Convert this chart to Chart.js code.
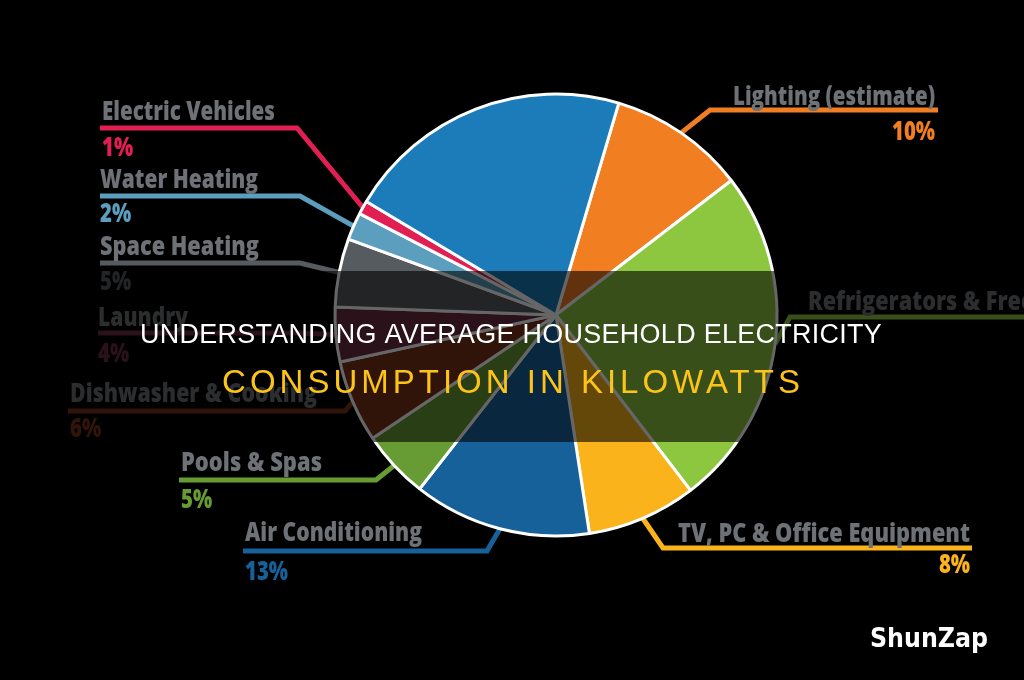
<!DOCTYPE html>
<html>
<head>
<meta charset="utf-8">
<script src="https://cdn.jsdelivr.net/npm/chart.js@4/dist/chart.umd.min.js"></script>
<style>
  html, body { margin: 0; padding: 0; background: #000; }
  #wrap { width: 1024px; height: 680px; position: relative; }
</style>
</head>
<body>
<div id="wrap"><canvas id="pie" width="1024" height="680"></canvas></div>
<script>
// shares of household electricity use, clockwise from the top
const categories = ['Lighting (estimate)', 'Refrigerators & Freezers', 'TV, PC & Office Equipment', 'Air Conditioning',
    'Pools & Spas', 'Dishwasher & Cooking', 'Laundry', 'Space Heating', 'Water Heating', 'Electric Vehicles', 'Other'];
const shares = [10, 25, 8, 13, 5, 6, 4, 5, 2, 1, 21];
const sliceColors = ['#f27e22', '#8dc63f', '#fbb31b', '#17619b', '#679b33', '#7b3417', '#6c2b41', '#565b60', '#5b9ebd', '#e21f52', '#1b7cb9'];

const titleLines = ['UNDERSTANDING AVERAGE HOUSEHOLD ELECTRICITY', 'CONSUMPTION IN KILOWATTS'];

// where each callout sits (index into categories), purely layout
const callouts = [
    { i: 0, align: 'right', x: 935, textY: 105, pctY: 140, lineY: 110, lineFrom: 938, elbow: 710, w: 202 },
    { i: 1, align: 'left', x: 808, textY: 310, pctY: null, lineY: 317, lineFrom: 1030, elbow: 790, w: 272 },
    { i: 2, align: 'right', x: 970, textY: 542, pctY: 573, lineY: 548, lineFrom: 972, elbow: 663, w: 292 },
    { i: 3, align: 'left', x: 245, textY: 541, pctY: 580, lineY: 551, lineFrom: 243, elbow: 487, w: 177 },
    { i: 4, align: 'left', x: 181, textY: 471, pctY: 508, lineY: 480, lineFrom: 179, elbow: 376, w: 141 },
    { i: 5, align: 'left', x: 70, textY: 402, pctY: 437, lineY: 411, lineFrom: 68, elbow: 345, w: 247 },
    { i: 6, align: 'left', x: 98, textY: 326, pctY: 362, lineY: 333, lineFrom: 98, elbow: 300, w: 90 },
    { i: 7, align: 'left', x: 100, textY: 255, pctY: 290, lineY: 263, lineFrom: 100, elbow: 300, w: 159 },
    { i: 8, align: 'left', x: 100, textY: 188, pctY: 222, lineY: 196, lineFrom: 100, elbow: 300, w: 158 },
    { i: 9, align: 'left', x: 102, textY: 120, pctY: 156, lineY: 128, lineFrom: 100, elbow: 297, w: 173 }
];

const calloutPlugin = {
    id: 'callouts',
    beforeDatasetsDraw(chart) {
        const ctx = chart.ctx;
        const arcs = chart.getDatasetMeta(0).data;
        ctx.save();
        callouts.forEach(c => {
            const arc = arcs[c.i];
            const mid = (arc.startAngle + arc.endAngle) / 2;
            const px = arc.x + Math.cos(mid) * arc.outerRadius;
            const py = arc.y + Math.sin(mid) * arc.outerRadius;

            ctx.strokeStyle = sliceColors[c.i];
            ctx.lineWidth = 5;
            ctx.lineJoin = 'miter';
            ctx.beginPath();
            ctx.moveTo(c.lineFrom, c.lineY);
            ctx.lineTo(c.elbow, c.lineY);
            ctx.lineTo(px, py);
            ctx.stroke();

            ctx.textAlign = c.align;
            ctx.textBaseline = 'alphabetic';
            ctx.font = '800 26px "Open Sans"';
            ctx.fillStyle = '#6e7175';
            ctx.fillText(categories[c.i], c.x, c.textY, c.w);

            if (c.pctY) {
                const pct = shares[c.i] + '%';
                ctx.fillStyle = sliceColors[c.i];
                const natural = ctx.measureText(pct).width;
                ctx.fillText(pct, c.x, c.pctY, natural * 0.78);
            }
        });
        ctx.restore();
    },
    afterDraw(chart) {
        const ctx = chart.ctx;
        ctx.save();
        // dark banner with the title
        ctx.fillStyle = 'rgba(0, 0, 0, 0.6)';
        ctx.fillRect(0, 271, 1024, 171);

        ctx.textAlign = 'center';
        ctx.textBaseline = 'alphabetic';
        ctx.font = '27px "Liberation Sans"';
        ctx.letterSpacing = '0.3px';
        ctx.fillStyle = '#ffffff';
        ctx.fillText(titleLines[0], 511, 343, 742);
        ctx.font = '33px "Liberation Sans"';
        ctx.letterSpacing = '4px';
        ctx.fillStyle = '#fcc418';
        ctx.fillText(titleLines[1], 513, 393, 583);
        ctx.letterSpacing = '0px';

        ctx.font = 'bold 26px "DejaVu Sans"';
        ctx.fillStyle = '#ffffff';
        ctx.textAlign = 'left';
        ctx.fillText('ShunZap', 870, 647, 118);
        ctx.restore();
    }
};

const chart = new Chart(document.getElementById('pie').getContext('2d'), {
    type: 'pie',
    data: {
        labels: categories,
        datasets: [{
            data: shares,
            backgroundColor: sliceColors,
            borderColor: '#ffffff',
            borderWidth: 3
        }]
    },
    options: {
        responsive: false,
        animation: false,
        rotation: 16.5,
        radius: 221,
        layout: { padding: { left: 88, right: 0, top: 0, bottom: 50 } },
        plugins: {
            legend: { display: false },
            tooltip: { enabled: false }
        }
    },
    plugins: [calloutPlugin]
});
</script>
</body>
</html>
